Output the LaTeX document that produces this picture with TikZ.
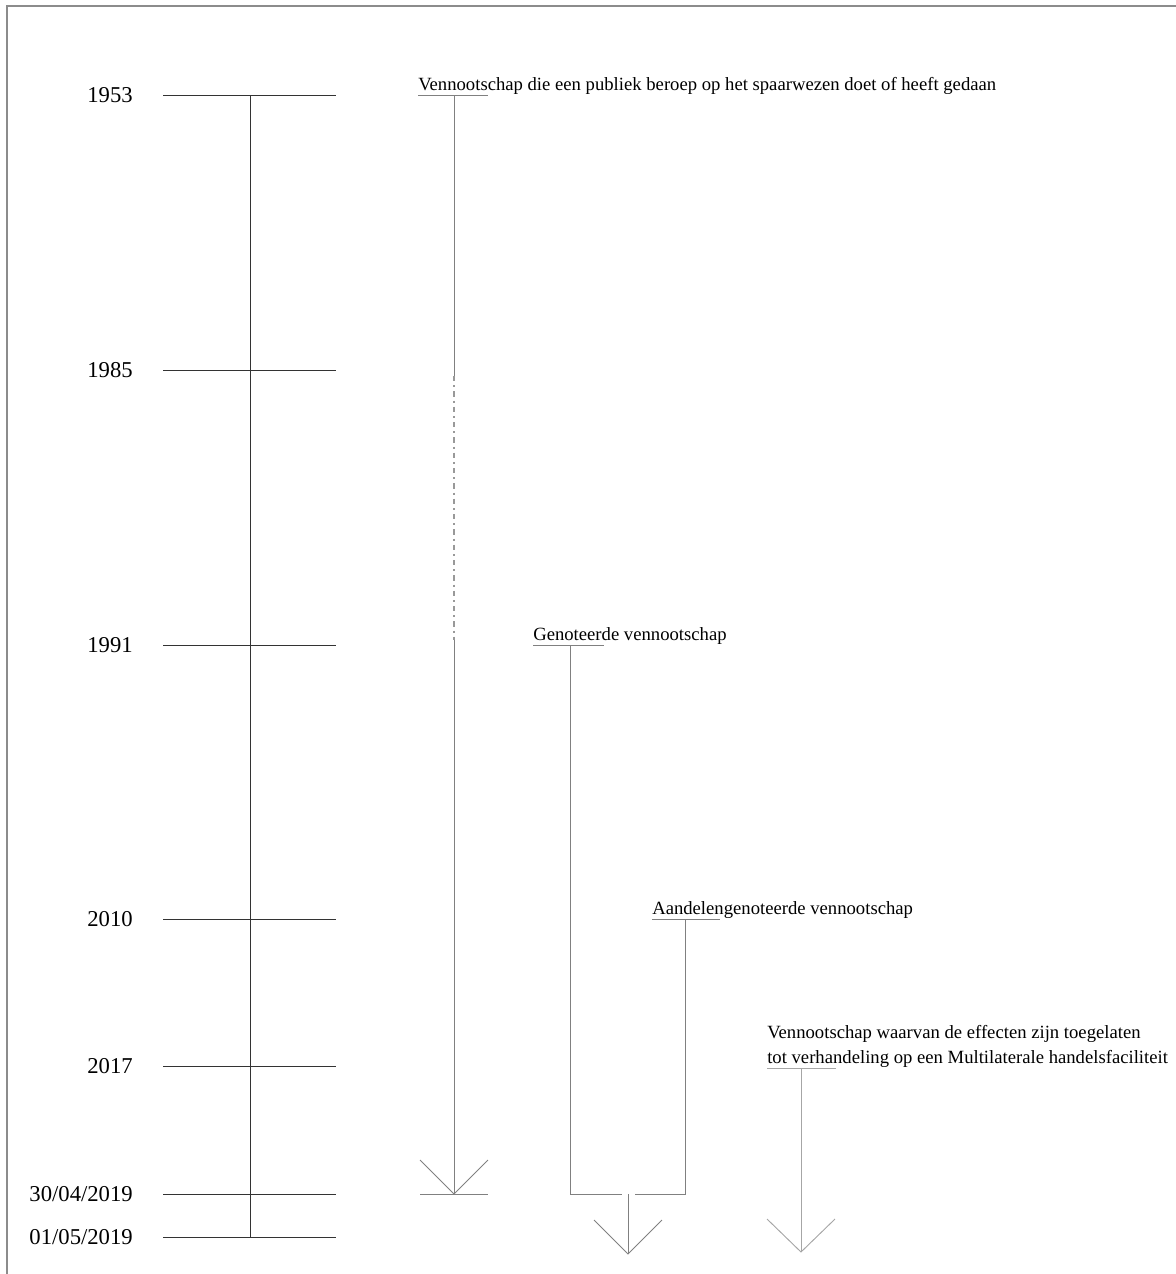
\documentclass[tikz,border=0pt]{standalone}
\usepackage{fontspec}
\setmainfont{Liberation Serif}

\begin{document}
\begin{tikzpicture}[x=0.75pt, y=-0.75pt,
  year/.style={anchor=east, inner sep=0pt, font=\fontsize{17}{20}\selectfont},
  lbl/.style={anchor=base west, inner sep=0pt, align=left, font=\fontsize{14}{18.5}\selectfont},
  axis/.style={draw=black!80, line width=0.6pt},
  track/.style={draw=black!50, line width=0.7pt}]
\useasboundingbox (0,0) rectangle (1176,1274);
\draw[black!45, line width=0.9pt] (7,1274) -- (7,6) -- (1176,6);

% years on the left
\node[year] (Y1) at (133,95) {1953};
\node[year] (Y2) at (133,370) {1985};
\node[year] (Y3) at (133,645) {1991};
\node[year] (Y4) at (133,919) {2010};
\node[year] (Y5) at (133,1066) {2017};
\node[year] (Y6) at (133,1194) {30/04/2019};
\node[year] (Y7) at (133,1237) {01/05/2019};
\coordinate (L1) at (163,95);   \coordinate (R1) at (336,95);
\coordinate (L2) at (163,370);  \coordinate (R2) at (336,370);
\coordinate (L3) at (163,645);  \coordinate (R3) at (336,645);
\coordinate (L4) at (163,919);  \coordinate (R4) at (336,919);
\coordinate (L5) at (163,1066); \coordinate (R5) at (336,1066);
\coordinate (L6) at (163,1194); \coordinate (R6) at (336,1194);
\coordinate (L7) at (163,1237); \coordinate (R7) at (336,1237);
\draw[axis] (L1) -- (R1);
\draw[axis] (L2) -- (R2);
\draw[axis] (L3) -- (R3);
\draw[axis] (L4) -- (R4);
\draw[axis] (L5) -- (R5);
\draw[axis] (L6) -- (R6);
\draw[axis] (L7) -- (R7);
\coordinate (Atop) at (250,95);
\coordinate (Abot) at (250,1237);
\draw[axis] (Atop) -- (Abot);

% vennootschap met publiek beroep
\node[lbl] (V1) at (418,90) {Vennootschap die een publiek beroep op het spaarwezen doet of heeft gedaan};
\coordinate (V1a) at (418,95);  \coordinate (V1b) at (488,95);
\coordinate (V1s) at (454,95);  \coordinate (V1d) at (454,376);
\coordinate (V1e) at (454,640); \coordinate (V1t) at (454,1194);
\coordinate (V1l) at (420,1160); \coordinate (V1r) at (488,1160);
\coordinate (V1m) at (420,1194); \coordinate (V1n) at (488,1194);
\draw[track] (V1a) -- (V1b);
\draw[track] (V1s) -- (V1d);
\draw[track, draw=black!40, line width=0.9pt, dash pattern=on 4pt off 3pt on 1.5pt off 3pt] (V1d) -- (V1e);
\draw[track] (V1e) -- (V1t);
\draw[track] (V1l) -- (V1t) -- (V1r);
\draw[track] (V1m) -- (V1n);

% genoteerde vennootschap
\node[lbl] (G1) at (533,640) {Genoteerde vennootschap};
\coordinate (G1a) at (533,645);  \coordinate (G1b) at (604,645);
\coordinate (G1s) at (570,645);  \coordinate (G1t) at (570,1194);
\coordinate (G1e) at (622,1194);
\draw[track] (G1a) -- (G1b);
\draw[track] (G1s) -- (G1t) -- (G1e);

% aandelengenoteerde vennootschap
\node[lbl] (A1) at (652,914) {Aandelengenoteerde vennootschap};
\coordinate (A1a) at (652,919);  \coordinate (A1b) at (720,919);
\coordinate (A1s) at (685,919);  \coordinate (A1t) at (685,1194);
\coordinate (A1e) at (635,1194);
\draw[track] (A1a) -- (A1b);
\draw[track] (A1s) -- (A1t) -- (A1e);

% samen verder
\coordinate (M1s) at (628,1194); \coordinate (M1t) at (628,1254);
\coordinate (M1l) at (594,1220); \coordinate (M1r) at (662,1220);
\draw[track] (M1s) -- (M1t);
\draw[track] (M1l) -- (M1t) -- (M1r);

% MTF
\node[lbl] (F1) at (767,1063) {Vennootschap waarvan de effecten zijn toegelaten\\tot verhandeling op een Multilaterale handelsfaciliteit};
\coordinate (F1a) at (767,1068); \coordinate (F1b) at (836,1068);
\coordinate (F1s) at (801,1068); \coordinate (F1t) at (801,1252);
\coordinate (F1l) at (767,1219); \coordinate (F1r) at (835,1219);
\draw[track, draw=black!35] (F1a) -- (F1b);
\draw[track, draw=black!35] (F1s) -- (F1t);
\draw[track, draw=black!35] (F1l) -- (F1t) -- (F1r);
\end{tikzpicture}
\end{document}
